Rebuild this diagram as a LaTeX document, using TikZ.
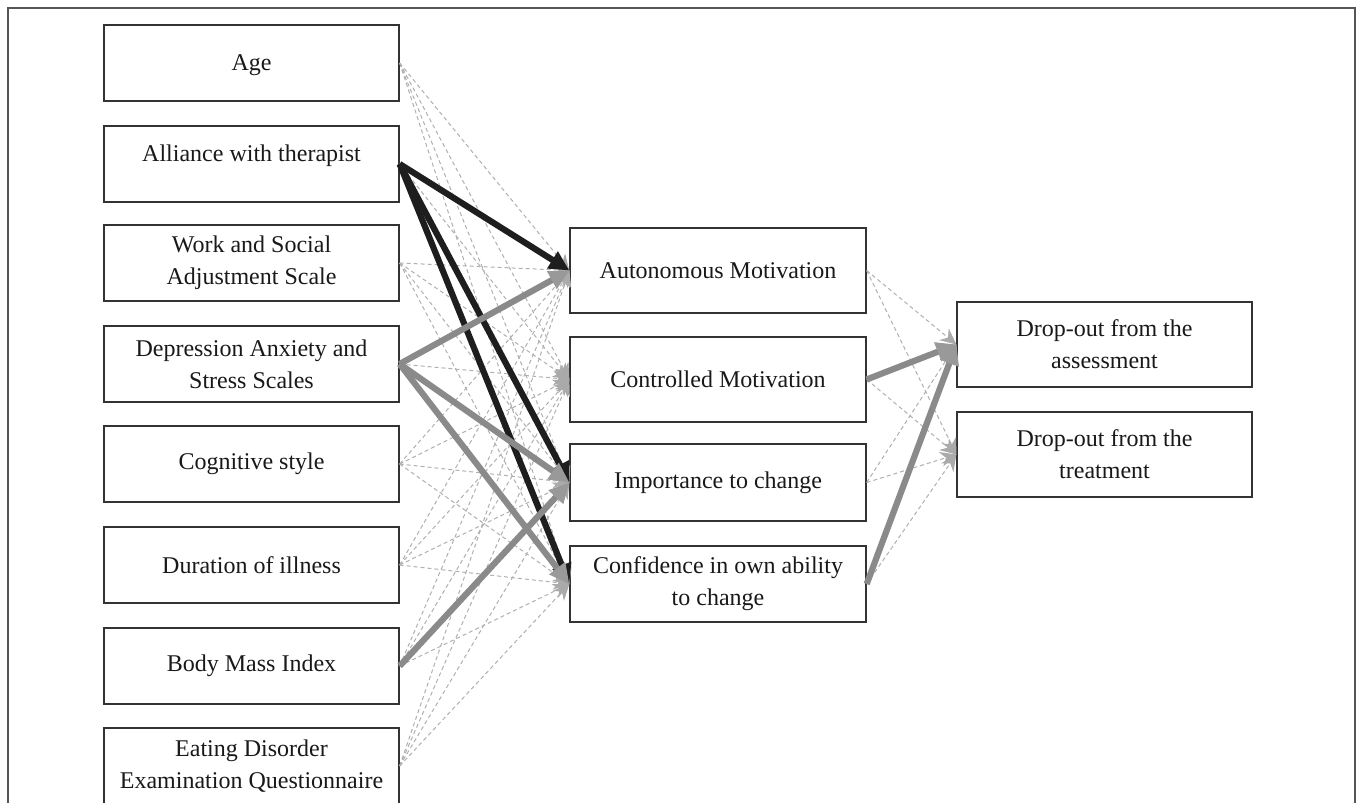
\documentclass[tikz,border=0pt]{standalone}
\usepackage{fontspec}
\setmainfont{Liberation Serif}
\usetikzlibrary{arrows.meta}
\definecolor{boxc}{HTML}{333333}
\definecolor{framec}{HTML}{555555}
\definecolor{blk}{HTML}{1E1E1E}
\definecolor{gry}{HTML}{8A8A8A}
\definecolor{gryhead}{HTML}{999999}
\definecolor{dsh}{HTML}{B0B0B0}
\definecolor{dshhead}{HTML}{AAAAAA}
\begin{document}
\begin{tikzpicture}[x=0.5pt,y=-0.5pt,
  box/.style={draw=boxc, line width=0.65pt, minimum width=147.5pt, inner sep=0pt,
    align=center, font=\fontsize{12}{16}\selectfont, text=black!90},
  fixedline/.style={text height=8pt, text depth=3pt},
  dline/.style={draw=dsh, line width=0.5pt, dash pattern=on 2pt off 1.5pt,
    -{Stealth[length=8pt,width=7.5pt,color=dshhead]}},
  blkarrow/.style={draw=blk, line width=3.1pt, -{Triangle[length=10pt,width=9.5pt]}},
  gryarrow/.style={draw=gry, line width=3.1pt, -{Triangle[length=10pt,width=9.5pt,color=gryhead]}}]
\useasboundingbox (0,0) rectangle (1358,802);
\fill[white] (0,0) rectangle (1358,802);
\draw[framec, line width=0.75pt] (8,830) -- (8,8) -- (1355,8) -- (1355,830);

% left column
\node[box, fixedline, minimum height=38pt] (age)  at (251.5,63)  {\raisebox{-1.5pt}{Age}};
\node[box, fixedline, minimum height=38pt] (all)  at (251.5,164) {\raisebox{3.5pt}{Alliance with therapist}};
\node[box, minimum height=38pt] (wsas) at (251.5,263) {Work and Social\\Adjustment Scale};
\node[box, minimum height=38pt] (dass) at (251.5,364) {Depression Anxiety and\\Stress Scales};
\node[box, minimum height=38pt] (cog)  at (251.5,464) {Cognitive style};
\node[box, minimum height=38pt] (dur)  at (251.5,565) {Duration of illness};
\node[box, minimum height=38pt] (bmi)  at (251.5,666) {Body Mass Index};
\node[box, minimum height=38pt] (edeq) at (251.5,766) {Eating Disorder\\Examination Questionnaire};

% middle column
\node[box, minimum width=148pt, minimum height=42.5pt] (aut) at (718,270.5) {Autonomous Motivation};
\node[box, minimum width=148pt, minimum height=42.5pt] (con) at (718,379.5) {Controlled Motivation};
\node[box, minimum width=148pt, minimum height=38.5pt] (imp) at (718,482.5) {Importance to change};
\node[box, minimum width=148pt, minimum height=38pt]   (cnf) at (718,584)   {Confidence in own ability\\to change};

% right column
\node[box, minimum height=42.5pt] (ass) at (1104.5,344.5) {Drop-out from the\\assessment};
\node[box, minimum height=42.5pt] (tre) at (1104.5,454.5) {Drop-out from the\\treatment};

% non-significant paths
\foreach \s in {age,all,wsas,dass,cog,dur,bmi,edeq}
  \foreach \t in {aut,con,imp,cnf}
    \draw[dline] (\s.east) -- (\t.west);
\foreach \s in {aut,con,imp,cnf}
  \foreach \t in {ass,tre}
    \draw[dline] (\s.east) -- (\t.west);

% significant paths
\draw[blkarrow] (all.east) -- (aut.west);
\draw[blkarrow] (all.east) -- (imp.west);
\draw[blkarrow] (all.east) -- (cnf.west);
\draw[gryarrow] (dass.east) -- (aut.west);
\draw[gryarrow] (dass.east) -- (imp.west);
\draw[gryarrow] (dass.east) -- (cnf.west);
\draw[gryarrow] (bmi.east) -- (imp.west);
\draw[gryarrow] (con.east) -- (ass.west);
\draw[gryarrow] (cnf.east) -- (ass.west);
\end{tikzpicture}
\end{document}
